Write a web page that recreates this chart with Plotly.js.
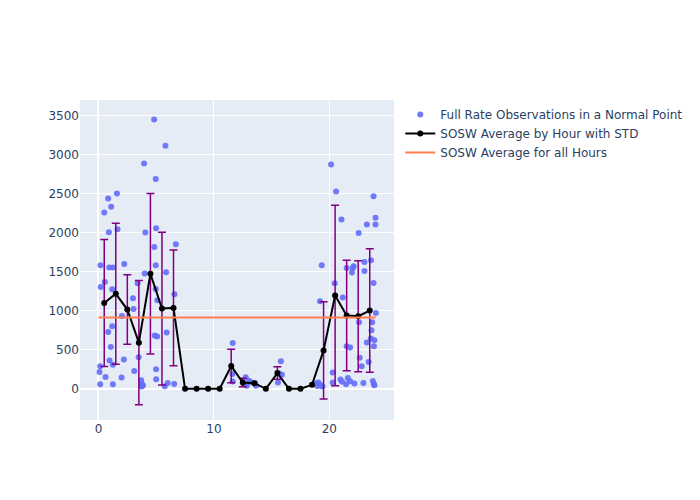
<!DOCTYPE html>
<html>
<head>
<meta charset="utf-8">
<script src="https://cdn.plot.ly/plotly-3.0.1.min.js"></script>
<style>html,body{margin:0;padding:0;}#chart{width:700px;height:500px;}</style>
</head>
<body>
<div id="chart"></div>
<script>
// Individual observations: fractional hour of day and SOSW value
const obsHour = [
  0.17, 0.20, 0.50, 0.55, 0.84, 0.90, 0.84, 0.93, 0.96, 0.15, 0.09, 0.61, 0.15,
  1.60, 1.10, 1.65, 1.25, 1.19, 1.19, 1.07, 1.25, 1.25,
  2.23, 2.03, 2.20, 2.00, 2.99,
  3.04, 3.39, 3.48, 3.10, 3.70, 3.75, 3.80, 3.85, 3.72, 3.95,
  4.82, 4.96, 4.99, 4.06, 4.84, 4.00, 4.96, 4.96, 4.87, 4.99, 5.00,
  5.80, 5.86, 5.10, 5.91, 5.08, 5.74, 6.00,
  6.70, 6.58, 6.56,
  11.63, 11.60, 11.62,
  12.76, 12.60, 12.85,
  13.04, 13.20, 13.57, 13.65,
  15.80, 15.65, 15.89, 15.55,
  18.85, 18.95,
  19.34, 19.19, 19.05, 19.20, 19.30, 19.40,
  20.15, 20.58, 20.46, 20.28, 20.28, 20.96,
  21.05, 21.16, 21.50, 21.50, 21.80, 21.60, 21.80, 21.96, 21.10, 21.45,
  22.54, 22.03, 22.10, 22.57, 22.63, 22.80, 22.17, 22.95,
  23.83, 23.25, 23.04, 23.61, 23.04, 23.83, 24.00, 24.00, 24.03, 23.71, 23.65,
  23.60, 23.90, 23.25, 23.86, 23.40, 23.77, 23.86, 23.90
];
const obsVal = [
  1585, 1307, 2262, 1371, 2441, 2009, 729, 1556, 362, 289, 216, 152, 58,
  2506, 2334, 2047, 1556, 1277, 802, 537, 310, 58,
  1602, 934, 375, 144, 1162,
  1024, 1354, 404, 229, 110, 60, 40, 45, 30, 2891,
  3456, 2690, 2060, 2005, 1820, 1479, 1585, 1281, 683, 250, 122,
  3117, 1496, 1136, 721, 670, 32, 74,
  1855, 1213, 62,
  588, 190, 95,
  150, 55, 40,
  105, 85, 75, 40,
  353, 195, 180, 80,
  70, 35,
  1585, 1123, 80, 50, 40, 30,
  2878, 2531, 1354, 208, 80, 118,
  2172, 1170, 1551, 546, 529, 139, 96, 1492, 90, 60,
  2000, 1551, 1573, 854, 400, 289, 67, 75,
  2471, 2108, 1628, 1650, 1512, 1358, 2193, 2108, 973, 854, 751,
  644, 623, 593, 546, 344, 100, 60, 45
];

// Hourly averages (plotted at hour centre) and their standard deviations
const hourX = [0.5,1.5,2.5,3.5,4.5,5.5,6.5,7.5,8.5,9.5,10.5,11.5,12.5,13.5,14.5,15.5,16.5,17.5,18.5,19.5,20.5,21.5,22.5,23.5];
const hourMean = [1100,1219,1017,592,1476,1030,1038,0,0,0,0,292,81,73,0,202,0,0,51,493,1197,940,931,1004];
const hourStd = [815,905,446,796,1030,980,742,NaN,NaN,NaN,NaN,215,53,NaN,NaN,80,NaN,NaN,NaN,624,1158,708,712,793];

// Overall average
const allX = [0, 24];
const allMean = [915, 915];

const traces = [
  {
    x: obsHour, y: obsVal, mode: 'markers', type: 'scatter',
    name: 'Full Rate Observations in a Normal Point',
    marker: {color: '#636efa', size: 6, opacity: 0.9}
  },
  {
    x: hourX, y: hourMean, mode: 'lines+markers', type: 'scatter',
    name: 'SOSW Average by Hour with STD',
    line: {color: 'black', width: 2},
    marker: {color: 'black', size: 6},
    error_y: {type: 'data', array: hourStd, visible: true, color: 'purple', thickness: 1.5, width: 4}
  },
  {
    x: allX, y: allMean, mode: 'lines', type: 'scatter',
    name: 'SOSW Average for all Hours',
    line: {color: 'coral', width: 2}
  }
];

const layout = {
  width: 700, height: 500,
  paper_bgcolor: 'white',
  plot_bgcolor: '#e5ecf6',
  font: {family: '"DejaVu Sans", verdana, sans-serif', size: 12, color: '#2a3f5f'},
  margin: {l: 80, r: 80, t: 100, b: 80},
  xaxis: {range: [-1.6, 25.6], dtick: 10, gridcolor: 'white', gridwidth: 1, zeroline: true, zerolinecolor: 'white', zerolinewidth: 2, showline: false, ticks: ''},
  yaxis: {range: [-400, 3705], dtick: 500, gridcolor: 'white', gridwidth: 1, zeroline: true, zerolinecolor: 'white', zerolinewidth: 2, showline: false, ticks: ''},
  showlegend: true
};

Plotly.newPlot('chart', traces, layout, {displayModeBar: false});
</script>
</body>
</html>
